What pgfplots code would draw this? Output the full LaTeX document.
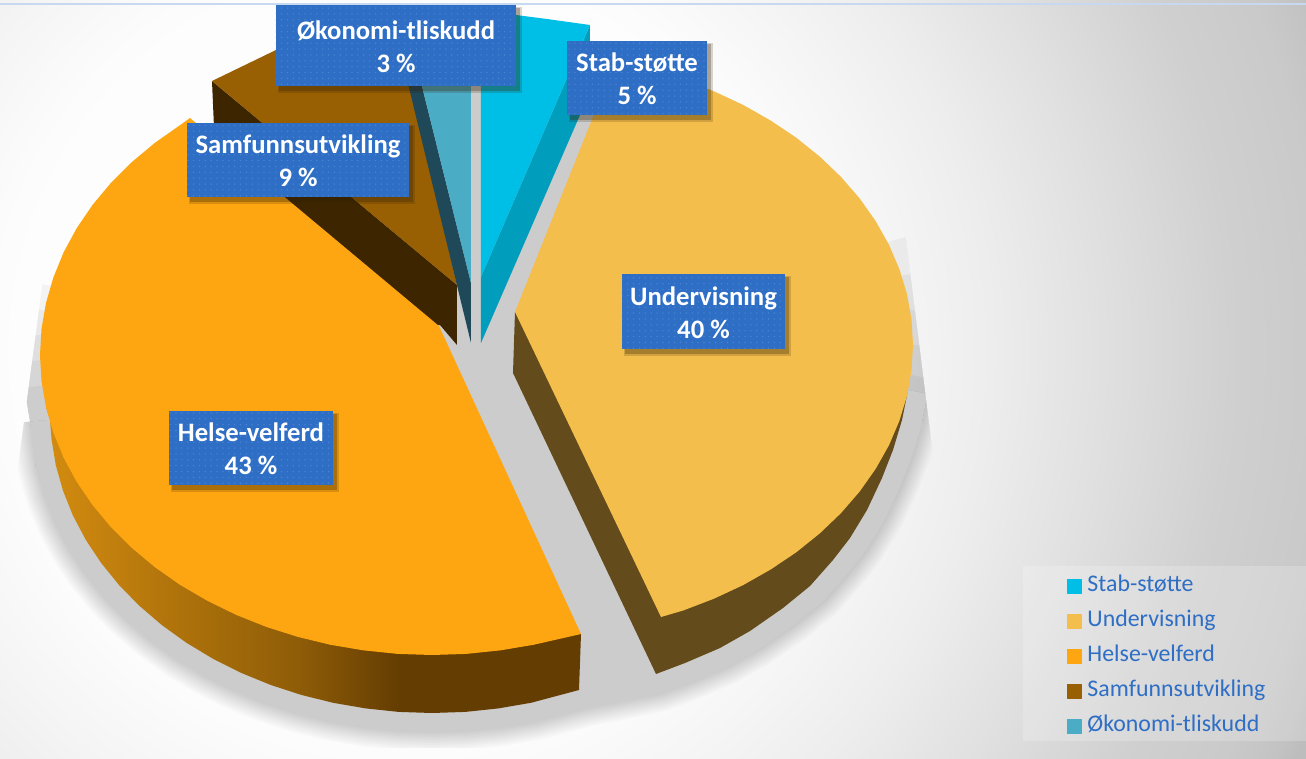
\documentclass[border=0pt]{standalone}
\usepackage{fontspec}
\setmainfont{Carlito}
\usepackage{pgfplots}
\pgfplotsset{compat=1.18}
\usetikzlibrary{patterns.meta}
\definecolor{cStab}{HTML}{00BFE6}\definecolor{wStab}{HTML}{009DBD}
\definecolor{cUnd}{HTML}{F3BE4B}\definecolor{wUnd}{HTML}{634B1C}
\definecolor{cHel}{HTML}{FEA612}
\definecolor{cSam}{HTML}{995F03}\definecolor{wSam}{HTML}{3D2500}
\definecolor{cOko}{HTML}{4BACC6}\definecolor{wOko}{HTML}{1F4858}
\definecolor{lab}{HTML}{2E6EC5}\definecolor{labd}{HTML}{4A84D3}
\pgfdeclareradialshading{bgshade}{\pgfpoint{0bp}{0bp}}{
 color(0bp)=(white); color(9.1bp)=(white!99!black); color(11.4bp)=(white!96!black);
 color(13.4bp)=(white!93!black); color(15.9bp)=(white!88!black); color(18.9bp)=(white!81.5!black);
 color(21bp)=(white!79!black); color(21.9bp)=(white!76.5!black); color(22.4bp)=(white!74!black); color(50bp)=(white!74!black)}
\definecolor{w0}{HTML}{D48C10}\definecolor{w1}{HTML}{A86E0A}\definecolor{w2}{HTML}{8E5C08}\definecolor{w3}{HTML}{643D02}
\pgfdeclarehorizontalshading{wallshade}{100bp}{
 color(0bp)=(w0); color(25bp)=(w0); color(39.5bp)=(w1); color(48.8bp)=(w2); color(58bp)=(w3); color(100bp)=(w3)}
\pgfplotstableread{
x y
50 420
51.5 439.1
55.8 465.1
63 490.6
73 515.6
85.8 539.8
101.2 563
119.1 585.1
139.4 605.8
161.9 625.1
186.5 642.8
212.9 658.7
241 672.8
270.6 684.9
301.3 694.9
333.1 702.8
365.7 708.4
398.7 711.9
432 713
465.3 711.9
498.3 708.4
530.9 702.8
579 690
656 674
685 663
720 648
750 631
783 608
810 586
833 560
850 538
867 510
882 478
893 450
902 420
908 390
}\halo
\newcommand{\lbl}[6]{%
 \fill[black!80!cHel,opacity=.18] (axis cs:#1+2,#3+2) rectangle (axis cs:#2+6,#4+7);
 \fill[black!80!cHel,opacity=.28] (axis cs:#1+3,#3+3) rectangle (axis cs:#2+4,#4+5);
 \fill[lab] (axis cs:#1,#3) rectangle (axis cs:#2,#4);
 \fill[pattern={Dots[radius=0.6pt,distance=4.4pt]},pattern color=labd] (axis cs:#1,#3) rectangle (axis cs:#2,#4);
 \node[align=center,text=white,font=\fontsize{20}{25}\selectfont\bfseries,inner sep=0pt] at (axis cs:{(#1+#2)/2},{(#3+#4)/2+1}) {#5\\#6};
}
\newcommand{\repaint}[1]{\begin{scope}\clip #1 -- cycle; \path[shading=bgshade] (axis cs:-700,-750) rectangle (axis cs:1500,1450);\end{scope}}
\pgfplotsset{ext/.style={forget plot,draw=black,opacity=.04,line width=30pt}}
\begin{document}
\begin{tikzpicture}
\begin{axis}[
 scale only axis,width=979.5pt,height=569.25pt,
 xmin=0,xmax=1306,ymin=0,ymax=759,y dir=reverse,hide axis,clip=false,
 every axis plot/.append style={line join=round},
 legend style={at={(axis cs:1064,568)},anchor=north west,draw=none,fill=none,
   font=\fontsize{17.9}{19}\selectfont,text=lab,inner xsep=2pt,inner ysep=5pt,
   row sep=12.4pt,nodes={inner sep=0pt,anchor=base west},
   /tikz/every odd column/.append style={column sep=4.5pt}},
 legend cell align=left,
 legend image code/.code={\fill[#1] (0pt,-5.25pt+.3em+1pt) rectangle (10.5pt,5.25pt+.3em+1pt);}
]
% background
\path[shading=bgshade] (axis cs:-700,-750) rectangle (axis cs:1500,1450);
\addplot[forget plot,draw={rgb,255:red,197;green,217;blue,241},line width=1.5pt] coordinates {(0,3.5)(1306,3.5)};
% soft shadow: fading rim, then solid band
\pgfplotsinvokeforeach{44,48,52,56,60,64,68,72,76}{
 \addplot[forget plot,draw=black,opacity=.0205,line width=#1*0.75pt] table {\halo};
}
\addplot[ext] coordinates {(47,285)(43,310)(41,335)(41.5,360)(44,385)(50,420)(55.8,465)};
\addplot[ext] coordinates {(43,310)(41,335)(41.5,360)(44,385)(50,420)(55.8,465)};
\addplot[ext] coordinates {(41,335)(41.5,360)(44,385)(50,420)(55.8,465)};
\addplot[ext] coordinates {(41.5,360)(44,385)(50,420)(55.8,465)};
\addplot[ext] coordinates {(44,385)(50,420)(55.8,465)};
\addplot[ext] coordinates {(895,240)(905,275)(910,310)(912,345)(911,375)(908,390)(902,420)};
\addplot[ext] coordinates {(905,275)(910,310)(912,345)(911,375)(908,390)(902,420)};
\addplot[ext] coordinates {(910,310)(912,345)(911,375)(908,390)(902,420)};
\addplot[ext] coordinates {(912,345)(911,375)(908,390)(902,420)};
\addplot[ext] coordinates {(911,375)(908,390)(902,420)};
\addplot[forget plot,draw=black!20,line width=30pt] table {\halo};
\repaint{(axis cs:46,240) -- (axis cs:42,287) -- (axis cs:13,503) -- (axis cs:-30,600) -- (axis cs:-30,240)}
\repaint{(axis cs:900,190) -- (axis cs:905,230) -- (axis cs:935,470) -- (axis cs:945,600) -- (axis cs:1000,600) -- (axis cs:1000,190)}
\repaint{(axis cs:-30,748) -- (axis cs:1000,748) -- (axis cs:1000,800) -- (axis cs:-30,800)}
% floor under the pie
\addplot[forget plot,draw=none,fill=black!20] coordinates {(230,150)(240,75)(276,55)(395,20)(481,12)(590,45)(615,62)(913,345)(908,390)(833,560)(656,674)(579,690)(432,713)(270,684)(101,563)(50,420)(40,355)} -- cycle;
% Samfunnsutvikling
\addplot[forget plot,draw=none,fill=wSam] coordinates {(212,81)(457,285)(457,345)(440,325)(430,326)(215,150)} -- cycle;
\addplot[forget plot,draw=none,fill=cSam] coordinates {(212,81)(276,50)(330,32)(395,20)(410,86)(457,285)} -- cycle;
% Okonomi
\addplot[forget plot,draw=none,fill=wOko] coordinates {(471,283)(471,343)(395,30)(404,14)} -- cycle;
\addplot[forget plot,draw=none,fill=cOko] coordinates {(471,283)(471,14)(404,14)} -- cycle;
% Stab
\addplot[forget plot,draw=none,fill=wStab] coordinates {(481,277)(481,343)(590,92)(590,25)} -- cycle;
\addplot[forget plot,draw=none,fill=cStab] coordinates {(481,277)(481,12)(516,15)(547,19)(590,25)} -- cycle;
% Helse wall and top
\addplot[forget plot,draw=none,shade,shading=wallshade] coordinates {(581,634)(579,690)(530.9,702.8)(498.3,708.4)(465.3,711.9)(432,713)(398.7,711.9)(365.7,708.4)(333.1,702.8)(301.3,694.9)(270.6,684.9)(241,672.8)(212.9,658.7)(186.5,642.8)(161.9,625.1)(139.4,605.8)(119.1,585.1)(101.2,563)(85.8,539.8)(73,515.6)(63,490.6)(55.8,465.1)(51.5,439.1)(50,420)(46,407)} -- cycle;
\addplot[forget plot,draw=none,fill=cHel] coordinates {(581,634)(533.5,644.8)(500.1,650.4)(466.2,653.9)(432,655)(397.8,653.9)(363.9,650.4)(330.5,644.8)(297.9,636.9)(266.3,626.9)(236,614.8)(207.2,600.7)(180,584.8)(154.8,567.1)(131.7,547.8)(110.9,527.1)(92.5,505)(76.7,481.8)(63.6,457.6)(53.4,432.6)(46,407.1)(41.5,381.1)(40,355)(41.5,328.9)(46,302.9)(53.4,277.4)(63.6,252.4)(76.7,228.2)(92.5,205)(110.9,182.9)(131.7,162.2)(154.8,142.9)(180,125.2)(190,118)(439,326)} -- cycle;
% Undervisning wall and top
\addplot[forget plot,draw=none,fill=wUnd] coordinates {(515,312)(513,373)(656,674)(685,663)(720,648)(750,631)(783,608)(810,586)(833,560)(850,538)(867,510)(882,478)(893,450)(902,420)(908,390)(907,395)} -- cycle;
\addplot[forget plot,draw=none,fill=cUnd] coordinates {(515,312)(615,62)(651.1,69.7)(683.2,79.5)(714,91.3)(743.3,105)(770.8,120.6)(796.4,137.8)(819.9,156.7)(841,176.9)(859.7,198.5)(875.7,221.2)(889,244.8)(899.4,269.2)(907,294.1)(911.5,319.5)(913,345)(911.5,370.5)(907,395.9)(899.4,420.8)(889,445.2)(875.7,468.8)(859.7,491.5)(841,513.1)(819.9,533.3)(796.4,552.2)(770.8,569.4)(743.3,585)(714,598.7)(683.2,610.5)(661,617)} -- cycle;
% labels
\lbl{276}{516}{5}{86}{Økonomi-tliskudd}{3 \%}
\lbl{567}{707}{41}{115}{Stab-støtte}{5 \%}
\lbl{187}{409}{123}{197}{Samfunnsutvikling}{9 \%}
\lbl{622}{785}{274}{349}{Undervisning}{40 \%}
\lbl{169}{333}{411}{485}{Helse-velferd}{43 \%}
% legend
\fill[white,opacity=.2] (axis cs:1023,566) rectangle (axis cs:1306,741);
\addlegendimage{cStab}\addlegendentry{Stab-støtte}
\addlegendimage{cUnd}\addlegendentry{Undervisning}
\addlegendimage{cHel}\addlegendentry{Helse-velferd}
\addlegendimage{cSam}\addlegendentry{Samfunnsutvikling}
\addlegendimage{cOko}\addlegendentry{Økonomi-tliskudd}
\coordinate (A) at (axis cs:0,759);
\coordinate (B) at (axis cs:1306,0);
\end{axis}
\pgfresetboundingbox
\useasboundingbox (A) rectangle (B);
\end{tikzpicture}
\end{document}
